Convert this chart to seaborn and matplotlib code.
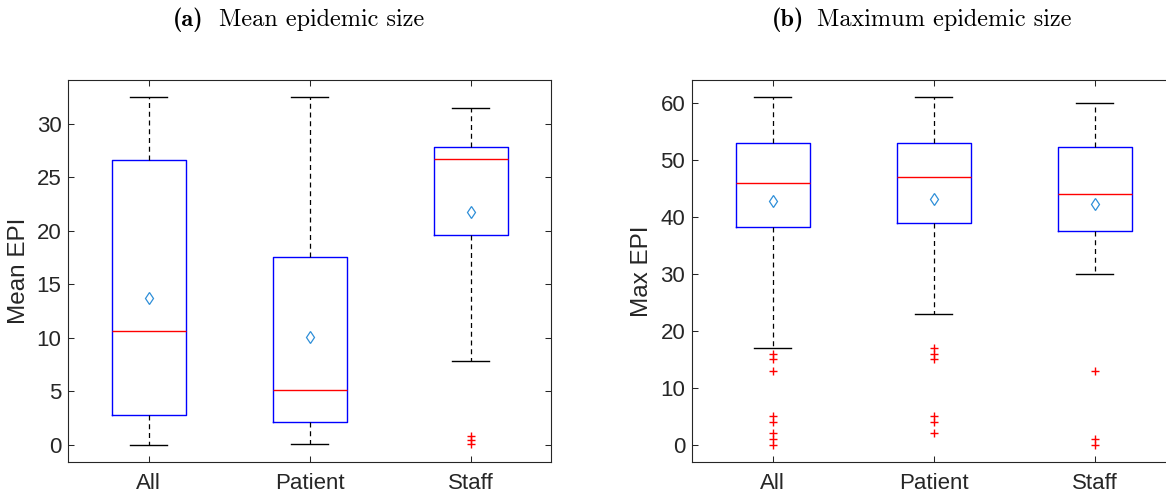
import numpy as np
import pandas as pd
import matplotlib
matplotlib.use("Agg")
import matplotlib.pyplot as plt
import seaborn as sns

groups = ["All", "Patient", "Staff"]

mean_all = [0, 0.5, 1, 1.5, 2.2, 2.77, 3.5, 5, 7, 9, 10.63,
            12, 14, 17, 22, 26.64, 28, 30, 31, 32.2, 32.45]
mean_patient = [0.06, 0.4, 0.9, 1.4, 1.8, 2.14, 2.8, 3.5, 4.1, 4.6, 5.07,
                6, 8, 11, 15, 17.56, 19, 22, 25, 29, 32.45]
mean_staff = [0.1, 0.47, 0.78, 7.77, 17, 19.58, 22, 24, 25.5, 26.4, 26.73,
              26.9, 27.1, 27.4, 27.6, 27.82, 28.3, 29, 29.8, 30.6, 31.46]

# (b) maximum epidemic size per run, as value / how many runs
max_all_vals = [0, 1, 2, 4, 5, 13, 15, 16, 17, 25, 33, 35, 38, 38.3, 40, 42, 44,
                46, 47, 49, 51, 53, 54, 56, 58, 61]
max_all_counts = [1, 1, 1, 1, 1, 1, 1, 1, 1, 2, 4, 5, 5, 3, 6, 8, 8,
                  3, 8, 8, 6, 3, 8, 8, 6, 1]
max_patient_vals = [2, 4, 5, 15, 16, 17, 23, 25, 28, 32, 36, 39, 40, 42, 44,
                    47, 48, 50, 52, 53, 54, 56, 58, 61]
max_patient_counts = [1, 1, 1, 1, 1, 1, 1, 3, 4, 5, 6, 3, 7, 8, 7,
                      3, 10, 8, 4, 3, 10, 8, 4, 1]
max_staff_vals = [0, 1, 13, 30, 32, 35, 37.5, 38, 40, 43, 44, 45, 47, 50, 52.2,
                  53, 55, 58, 60]
max_staff_counts = [1, 1, 1, 9, 8, 5, 3, 12, 7, 3, 3, 12, 7, 3, 3,
                    10, 8, 4, 1]

max_all = np.repeat(max_all_vals, max_all_counts)
max_patient = np.repeat(max_patient_vals, max_patient_counts)
max_staff = np.repeat(max_staff_vals, max_staff_counts)


def long_table(columns):
    frames = [pd.DataFrame({"group": g, "value": v}) for g, v in zip(groups, columns)]
    return pd.concat(frames, ignore_index=True)


df_mean = long_table([mean_all, mean_patient, mean_staff])
df_max = long_table([max_all, max_patient, max_staff])

plt.rcParams["font.family"] = ["Liberation Sans", "DejaVu Sans"]

dark = "#262626"
box_kws = dict(
    order=groups, fill=False, color="#0000ff", width=0.46, whis=1.5, linewidth=1.0,
    showmeans=True,
    medianprops=dict(color="#ff0000", linewidth=1.0),
    whiskerprops=dict(color="black", linestyle=(0, (4, 3)), linewidth=0.9),
    capprops=dict(color="black", linewidth=1.0),
    flierprops=dict(marker="+", markeredgecolor="#ff0000", markersize=6, markeredgewidth=1.0),
    meanprops=dict(marker="d", markeredgecolor="#2f8fd8", markerfacecolor="none",
                   markersize=6, markeredgewidth=0.9),
)

fig = plt.figure(figsize=(11.66, 4.94), dpi=100)
ax1 = fig.add_axes([0.0586, 0.0648, 0.4142, 0.7733])
ax2 = fig.add_axes([0.5937, 0.0648, 0.4142, 0.7733])

sns.boxplot(data=df_mean, x="group", y="value", ax=ax1, **box_kws)
sns.boxplot(data=df_max, x="group", y="value", ax=ax2, **box_kws)

ax1.set_ylim(-1.62, 34.07)
ax1.set_yticks(range(0, 31, 5))
ax1.set_ylabel("Mean EPI", fontsize=17.5, color=dark, labelpad=5)
ax2.set_ylim(-3.05, 64.05)
ax2.set_yticks(range(0, 61, 10))
ax2.set_ylabel("Max EPI", fontsize=17.5, color=dark, labelpad=5)

for ax in (ax1, ax2):
    ax.set_xlim(-0.5, 2.5)
    ax.set_xlabel("")
    ax.tick_params(direction="in", top=True, right=True, length=4, width=0.75,
                   colors=dark, labelsize=16, pad=5)
    ax.tick_params(axis="x", pad=8)
    for sp in ax.spines.values():
        sp.set_color(dark)
        sp.set_linewidth(0.8)

# panel titles: bold tag in cmb10, caption in cmr10
base = 1 - 26 / 494
fig.text(173 / 1166, base, "(a)", family="cmb10", fontsize=17.5, va="baseline")
fig.text(219 / 1166, base, "Mean epidemic size", family="cmr10", fontsize=17.5, va="baseline")
fig.text(772 / 1166, base, "(b)", family="cmb10", fontsize=17.5, va="baseline")
fig.text(817 / 1166, base, "Maximum epidemic size", family="cmr10", fontsize=17.5, va="baseline")

fig.savefig("out.png", dpi=100)
